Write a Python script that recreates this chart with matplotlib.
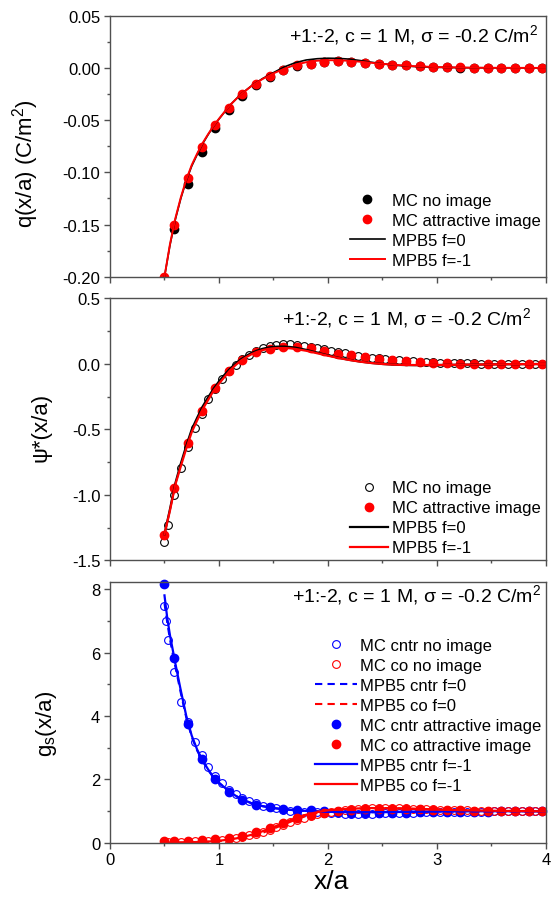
import matplotlib.pyplot as plt
from matplotlib.ticker import MultipleLocator, FormatStrFormatter

plt.rcParams['font.family'] = ['Liberation Sans', 'DejaVu Sans']
plt.rcParams['mathtext.fontset'] = 'custom'
plt.rcParams['mathtext.rm'] = 'Liberation Sans'
plt.rcParams['mathtext.it'] = 'Liberation Sans:italic'
plt.rcParams['axes.unicode_minus'] = False

# MC bins (attractive image runs) and the finer no-image bins
x_mc = [0.5, 0.59, 0.715, 0.84, 0.965, 1.09, 1.215, 1.34, 1.465, 1.59, 1.715, 1.84, 1.965,
        2.09, 2.215, 2.34, 2.465, 2.59, 2.715, 2.84, 2.965, 3.09, 3.215, 3.34, 3.465, 3.59,
        3.715, 3.84, 3.965]
x_no = [0.5, 0.535, 0.59, 0.6525, 0.715, 0.7775, 0.84, 0.9025, 0.965, 1.0275, 1.09, 1.1525,
        1.215, 1.2775, 1.34, 1.4025, 1.465, 1.5275, 1.59, 1.6525, 1.715, 1.7775, 1.84, 1.9025,
        1.965, 2.0275, 2.09, 2.1525, 2.215, 2.2775, 2.34, 2.4025, 2.465, 2.5275, 2.59, 2.6525,
        2.715, 2.7775, 2.84, 2.9025, 2.965, 3.0275, 3.09, 3.1525, 3.215, 3.2775, 3.34, 3.4025,
        3.465, 3.5275, 3.59, 3.6525, 3.715, 3.7775, 3.84, 3.9025, 3.965]
x_no_cntr = [0.5, 0.51, 0.535, 0.59, 0.6525, 0.715, 0.7775, 0.84, 0.9025, 0.965, 1.0275, 1.09,
             1.1525, 1.215, 1.2775, 1.34, 1.4025, 1.465, 1.5275, 1.59, 1.6525, 1.715, 1.7775,
             1.84, 1.9025, 1.965, 2.0275, 2.09, 2.1525, 2.215, 2.2775, 2.34, 2.4025, 2.465,
             2.5275, 2.59, 2.6525, 2.715, 2.7775, 2.84, 2.9025, 2.965, 3.0275, 3.09, 3.1525,
             3.215, 3.2775, 3.34, 3.4025, 3.465, 3.5275, 3.59, 3.6525, 3.715, 3.7775, 3.84,
             3.9025, 3.965]

# panel 1: q(x/a)
q_noimg = [-0.202, -0.1545, -0.111, -0.0809, -0.0579, -0.0403, -0.0266, -0.0166, -0.0086,
           -0.0022, 0.0022, 0.0036, 0.0053, 0.0062, 0.0059, 0.0049, 0.0039, 0.0030, 0.0024,
           0.0017, 0.0010, 0.0007, 0.0004, 0.0001, 0.0, -0.0002, -0.0002, -0.0002, -0.0003]
q_img = [-0.200, -0.150, -0.1055, -0.0758, -0.0547, -0.0384, -0.0250, -0.0157, -0.0078,
         -0.0017, 0.0025, 0.0038, 0.0054, 0.0063, 0.0060, 0.0050, 0.0040, 0.0031, 0.0025,
         0.0018, 0.0011, 0.0008, 0.0005, 0.0002, 0.0, -0.0002, -0.0002, -0.0002, -0.0003]
x_q_line = [0.5, 0.55, 0.6, 0.65, 0.7, 0.75, 0.8, 0.85, 0.9, 0.95, 1.0, 1.1, 1.2, 1.3, 1.4,
            1.5, 1.6, 1.7, 1.8, 1.9, 2.0, 2.1, 2.2, 2.3, 2.4, 2.5, 2.6, 2.7, 2.8, 3.0, 3.25,
            3.5, 4.0]
q_f0 = [-0.200, -0.170, -0.145, -0.125, -0.108, -0.094, -0.083, -0.0727, -0.064, -0.056,
        -0.049, -0.0358, -0.0253, -0.0170, -0.0102, -0.0045, 0.0010, 0.0050, 0.0076, 0.0088,
        0.0093, 0.0091, 0.0084, 0.0070, 0.0054, 0.0040, 0.0028, 0.0019, 0.0013, 0.0006,
        0.0002, 0.0001, 0.0]
q_f1 = [-0.200, -0.169, -0.144, -0.124, -0.107, -0.093, -0.082, -0.072, -0.0635, -0.0555,
        -0.0487, -0.0357, -0.0254, -0.0172, -0.0106, -0.0052, -0.0008, 0.0030, 0.0055, 0.0069,
        0.0074, 0.0073, 0.0068, 0.0059, 0.0049, 0.0039, 0.0030, 0.0022, 0.0016, 0.0008,
        0.0003, 0.0001, 0.0]

# panel 2: psi*(x/a)
psi_noimg = [-1.356, -1.227, -0.998, -0.796, -0.636, -0.491, -0.379, -0.271, -0.190, -0.114,
             -0.050, -0.008, 0.035, 0.066, 0.098, 0.121, 0.136, 0.146, 0.151, 0.152, 0.147,
             0.139, 0.131, 0.120, 0.111, 0.102, 0.092, 0.082, 0.072, 0.063, 0.055, 0.048,
             0.042, 0.036, 0.032, 0.028, 0.024, 0.021, 0.018, 0.015, 0.012, 0.010, 0.009,
             0.008, 0.006, 0.005, 0.004, 0.003, 0.003, 0.002, 0.002, 0.002, 0.002, 0.002,
             0.002, 0.002, 0.002]
psi_img = [-1.303, -0.949, -0.603, -0.359, -0.186, -0.053, 0.031, 0.089, 0.117, 0.132, 0.128,
           0.120, 0.096, 0.078, 0.066, 0.051, 0.038, 0.028, 0.022, 0.015, 0.010, 0.007, 0.003,
           0.001, 0.0, 0.0, 0.0, 0.0, 0.001]
x_psi_line = [0.5, 0.55, 0.6, 0.65, 0.7, 0.75, 0.8, 0.85, 0.9, 0.95, 1.0, 1.05, 1.1, 1.15,
              1.2, 1.25, 1.3, 1.35, 1.4, 1.45, 1.5, 1.55, 1.6, 1.65, 1.7, 1.8, 1.9, 2.0, 2.1,
              2.2, 2.3, 2.4, 2.5, 2.6, 2.7, 2.8, 3.0, 3.2, 3.4, 3.6, 3.8, 4.0]
psi_f0 = [-1.30, -1.11, -0.91, -0.76, -0.625, -0.50, -0.41, -0.325, -0.255, -0.19, -0.133,
          -0.083, -0.037, 0.002, 0.035, 0.062, 0.085, 0.102, 0.116, 0.125, 0.131, 0.133, 0.133,
          0.130, 0.125, 0.108, 0.087, 0.066, 0.047, 0.031, 0.018, 0.008, 0.0, -0.005, -0.008,
          -0.009, -0.008, -0.006, -0.004, -0.002, -0.001, 0.0]
psi_f1 = [-1.30, -1.12, -0.92, -0.78, -0.645, -0.52, -0.43, -0.345, -0.275, -0.205, -0.15,
          -0.10, -0.05, -0.01, 0.025, 0.052, 0.075, 0.093, 0.106, 0.115, 0.120, 0.122, 0.122,
          0.120, 0.115, 0.101, 0.082, 0.063, 0.045, 0.030, 0.017, 0.007, 0.0, -0.005, -0.007,
          -0.008, -0.008, -0.006, -0.004, -0.002, -0.001, 0.0]

# panel 3: g_s(x/a)
g_cntr_noimg = [7.45, 7.0, 6.4, 5.40, 4.45, 3.80, 3.19, 2.77, 2.38, 2.12, 1.89, 1.68, 1.54,
                1.41, 1.33, 1.25, 1.17, 1.12, 1.09, 1.05, 1.02, 1.01, 0.99, 0.98, 0.96, 0.95,
                0.94, 0.93, 0.92, 0.92, 0.92, 0.92, 0.92, 0.93, 0.93, 0.94, 0.94, 0.95, 0.95,
                0.96, 0.96, 0.97, 0.97, 0.98, 0.98, 0.98, 0.99, 0.99, 0.99, 0.99, 1.0, 1.0,
                1.0, 1.0, 1.0, 1.0, 1.0, 1.0]
g_co_noimg = [0.02, 0.02, 0.03, 0.03, 0.04, 0.05, 0.06, 0.07, 0.08, 0.10, 0.12, 0.15, 0.19,
              0.24, 0.29, 0.35, 0.42, 0.49, 0.57, 0.65, 0.72, 0.79, 0.85, 0.90, 0.95, 0.99,
              1.02, 1.05, 1.07, 1.08, 1.09, 1.10, 1.10, 1.10, 1.10, 1.09, 1.09, 1.08, 1.07,
              1.06, 1.06, 1.05, 1.04, 1.04, 1.03, 1.03, 1.02, 1.02, 1.01, 1.01, 1.01, 1.01,
              1.0, 1.0, 1.0, 1.0, 1.0]
g_cntr_img = [8.16, 5.82, 3.75, 2.65, 2.01, 1.62, 1.35, 1.21, 1.12, 1.07, 1.04, 1.03, 1.00,
              0.97, 0.95, 0.94, 0.94, 0.94, 0.95, 0.96, 0.97, 0.98, 0.98, 0.99, 0.99, 1.0,
              1.0, 1.0, 1.0]
g_co_img = [0.06, 0.06, 0.07, 0.09, 0.12, 0.16, 0.23, 0.34, 0.48, 0.64, 0.78, 0.88, 0.95,
            1.01, 1.04, 1.06, 1.07, 1.07, 1.07, 1.06, 1.05, 1.04, 1.03, 1.02, 1.01, 1.0, 1.0,
            1.0, 1.0]
x_g_line = [0.5, 0.525, 0.55, 0.575, 0.6, 0.65, 0.7, 0.75, 0.8, 0.85, 0.9, 0.95, 1.0, 1.1,
            1.2, 1.3, 1.4, 1.5, 1.6, 1.7, 1.8, 1.9, 2.0, 2.2, 2.4, 2.6, 2.8, 3.0, 3.25, 3.5,
            3.75, 4.0]
g_cntr_f0 = [7.55, 6.95, 6.42, 5.97, 5.55, 4.72, 3.95, 3.34, 2.91, 2.58, 2.30, 2.06, 1.89,
             1.60, 1.39, 1.25, 1.16, 1.10, 1.06, 1.03, 1.01, 0.99, 0.98, 0.97, 0.97, 0.975,
             0.98, 0.99, 0.995, 1.0, 1.0, 1.0]
g_co_f0 = [0.005, 0.006, 0.007, 0.008, 0.010, 0.012, 0.015, 0.018, 0.020, 0.027, 0.035, 0.045,
           0.055, 0.09, 0.14, 0.22, 0.32, 0.45, 0.59, 0.73, 0.85, 0.94, 1.00, 1.07, 1.10, 1.10,
           1.08, 1.06, 1.035, 1.02, 1.01, 1.0]
g_cntr_f1 = [7.80, 7.10, 6.55, 6.10, 5.65, 4.80, 4.00, 3.38, 2.94, 2.60, 2.32, 2.07, 1.90,
             1.60, 1.39, 1.25, 1.16, 1.10, 1.06, 1.03, 1.01, 0.99, 0.98, 0.97, 0.97, 0.975,
             0.98, 0.99, 0.995, 1.0, 1.0, 1.0]
g_co_f1 = [0.010, 0.010, 0.012, 0.013, 0.015, 0.017, 0.020, 0.025, 0.030, 0.037, 0.045, 0.056,
           0.070, 0.11, 0.17, 0.26, 0.37, 0.50, 0.64, 0.78, 0.89, 0.97, 1.03, 1.08, 1.10, 1.09,
           1.07, 1.05, 1.03, 1.015, 1.005, 1.0]

title_txt = r'+1:-2, c = 1 M, σ = -0.2 C/m$^{\mathrm{2}}$'
BLUE = '#0000FF'
RED = '#FF0000'
MS = 6
MS_OPEN = 5.6

fig = plt.figure(figsize=(5.51, 9.04), dpi=100)
ax1 = fig.add_axes([0.1996, 0.6928, 0.7913, 0.2887])
ax2 = fig.add_axes([0.1996, 0.3789, 0.7913, 0.2898])
ax3 = fig.add_axes([0.1996, 0.0664, 0.7913, 0.2890])

for ax in (ax1, ax2, ax3):
    for s in ax.spines.values():
        s.set_color('#505050')
        s.set_linewidth(1.0)
    ax.set_xlim(0, 4)
    ax.xaxis.set_major_locator(MultipleLocator(1))
    ax.xaxis.set_minor_locator(MultipleLocator(0.5))
    ax.tick_params(which='both', direction='out', color='#505050', labelcolor='black',
                   labelsize=12, top=False, right=False, width=1.0)
    ax.tick_params(which='major', length=4.5)
    ax.tick_params(which='minor', length=2.5)
    ax.tick_params(axis='y', pad=2.5)
    ax.tick_params(axis='x', pad=2)

leg_kw = dict(frameon=False, fontsize=12, labelspacing=0.3, borderpad=0.3, borderaxespad=0.0)

# ---- top panel
ax1.plot(x_mc, q_noimg, 'o', color='black', ms=MS, label='MC no image')
ax1.plot(x_mc, q_img, 'o', color=RED, ms=MS, label='MC attractive image')
ax1.plot(x_q_line, q_f0, '-', color='black', lw=1.2, label='MPB5 f=0')
ax1.plot(x_q_line, q_f1, '-', color=RED, lw=1.4, label='MPB5 f=-1')
ax1.set_ylim(-0.2, 0.05)
ax1.yaxis.set_major_locator(MultipleLocator(0.05))
ax1.yaxis.set_minor_locator(MultipleLocator(0.025))
ax1.yaxis.set_major_formatter(FormatStrFormatter('%.2f'))
ax1.tick_params(axis='x', labelbottom=False)
ax1.set_ylabel(r'q(x/a) (C/m$^{\mathrm{2}}$)', fontsize=16)
ax1.yaxis.set_label_coords(-0.158, 0.4375)
ax1.text(0.982, 0.93, title_txt, transform=ax1.transAxes, ha='right', va='center', fontsize=14)
ax1.legend(loc='lower right', bbox_to_anchor=(1.0, 0.015), handlelength=2.1,
           handletextpad=0.45, **leg_kw)

# ---- middle panel
ax2.plot(x_no, psi_noimg, 'o', mfc='none', mec='black', mew=0.8, ms=MS_OPEN, label='MC no image')
ax2.plot(x_mc, psi_img, 'o', color=RED, ms=MS, label='MC attractive image')
ax2.plot(x_psi_line, psi_f0, '-', color='black', lw=1.6, label='MPB5 f=0')
ax2.plot(x_psi_line, psi_f1, '-', color=RED, lw=1.6, label='MPB5 f=-1')
ax2.set_ylim(-1.5, 0.5)
ax2.yaxis.set_major_locator(MultipleLocator(0.5))
ax2.yaxis.set_minor_locator(MultipleLocator(0.25))
ax2.yaxis.set_major_formatter(FormatStrFormatter('%.1f'))
ax2.tick_params(axis='x', labelbottom=False)
ax2.set_ylabel('ψ*(x/a)', fontsize=16)
ax2.yaxis.set_label_coords(-0.135, 0.511)
ax2.text(0.966, 0.928, title_txt, transform=ax2.transAxes, ha='right', va='center', fontsize=14)
ax2.legend(loc='lower right', bbox_to_anchor=(1.0, 0.0), handlelength=2.3,
           handletextpad=0.25, **leg_kw)

# ---- bottom panel
h1, = ax3.plot(x_no_cntr, g_cntr_noimg, 'o', mfc='none', mec=BLUE, mew=0.8, ms=MS_OPEN)
h2, = ax3.plot(x_no, g_co_noimg, 'o', mfc='none', mec=RED, mew=0.8, ms=MS_OPEN)
h5, = ax3.plot(x_mc, g_cntr_img, 'o', color=BLUE, ms=MS, clip_on=False)
h6, = ax3.plot(x_mc, g_co_img, 'o', color=RED, ms=MS)
h3, = ax3.plot(x_g_line, g_cntr_f0, '--', color=BLUE, lw=1.5, dashes=(3.5, 2.5))
h4, = ax3.plot(x_g_line, g_co_f0, '--', color=RED, lw=1.5, dashes=(3.5, 2.5))
h7, = ax3.plot(x_g_line, g_cntr_f1, '-', color=BLUE, lw=1.6)
h8, = ax3.plot(x_g_line, g_co_f1, '-', color=RED, lw=1.6)
ax3.set_ylim(0, 8.23)
ax3.yaxis.set_major_locator(MultipleLocator(2))
ax3.yaxis.set_minor_locator(MultipleLocator(1))
ax3.set_ylabel(r'g$_{\mathrm{s}}$(x/a)', fontsize=16)
ax3.yaxis.set_label_coords(-0.118, 0.459)
ax3.set_xlabel('x/a', fontsize=19)
ax3.xaxis.set_label_coords(0.508, -0.1)
ax3.text(0.99, 0.953, title_txt, transform=ax3.transAxes, ha='right', va='center', fontsize=14)
ax3.legend([h1, h2, h3, h4, h5, h6, h7, h8],
           ['MC cntr no image', 'MC co no image', 'MPB5 cntr f=0', 'MPB5 co f=0',
            'MC cntr attractive image', 'MC co attractive image', 'MPB5 cntr f=-1',
            'MPB5 co f=-1'],
           loc='upper right', bbox_to_anchor=(1.0, 0.805), handlelength=2.5,
           handletextpad=0.16, **leg_kw)

fig.savefig('out.png', dpi=100)
